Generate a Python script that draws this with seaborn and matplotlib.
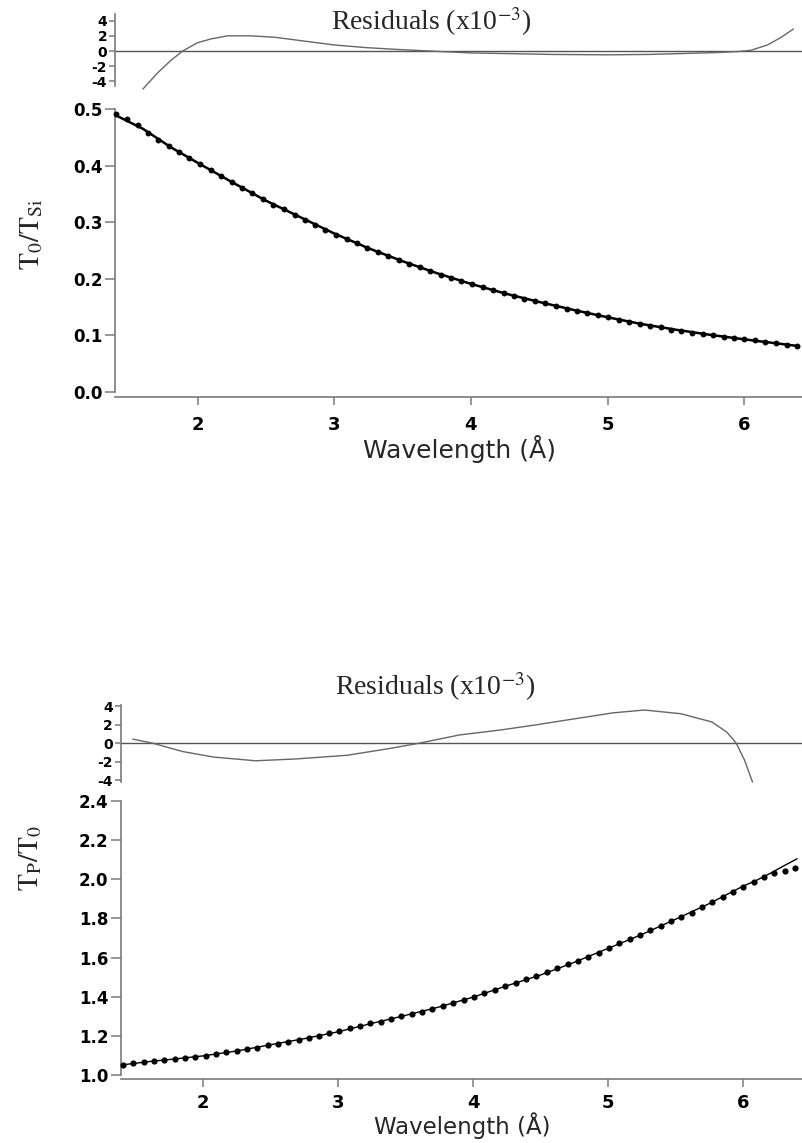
import matplotlib
matplotlib.use("Agg")
import matplotlib.pyplot as plt
import seaborn as sns

# ---------------- data ----------------
# wavelength grid of the measured points (Å)
wavelength = [1.405, 1.48, 1.56, 1.635, 1.71, 1.79, 1.865, 1.94, 2.02, 2.095,
              2.17, 2.25, 2.325, 2.40, 2.48, 2.555, 2.63, 2.71, 2.785, 2.86,
              2.935, 3.01, 3.09, 3.165, 3.24, 3.32, 3.395, 3.47, 3.55, 3.625,
              3.70, 3.78, 3.855, 3.93, 4.01, 4.085, 4.16, 4.24, 4.315, 4.39,
              4.47, 4.545, 4.62, 4.70, 4.775, 4.85, 4.93, 5.005, 5.08, 5.16,
              5.235, 5.31, 5.39, 5.465, 5.54, 5.62, 5.695, 5.77, 5.85, 5.925,
              6.00, 6.08, 6.155, 6.23, 6.31, 6.385]

# T0/TSi measured
t0_tsi = [0.491, 0.483, 0.472, 0.458, 0.446, 0.434, 0.424, 0.413, 0.403, 0.392,
          0.382, 0.371, 0.361, 0.351, 0.341, 0.331, 0.323, 0.313, 0.304, 0.295,
          0.287, 0.278, 0.271, 0.263, 0.255, 0.248, 0.241, 0.233, 0.226, 0.220,
          0.214, 0.207, 0.201, 0.196, 0.191, 0.185, 0.180, 0.175, 0.170, 0.165,
          0.161, 0.157, 0.152, 0.147, 0.143, 0.140, 0.136, 0.132, 0.128, 0.124,
          0.120, 0.117, 0.114, 0.110, 0.108, 0.105, 0.103, 0.100, 0.097, 0.095,
          0.093, 0.091, 0.089, 0.086, 0.083, 0.081]

# Tp/T0 measured
tp_t0 = [1.051, 1.060, 1.066, 1.072, 1.078, 1.081, 1.087, 1.093, 1.100, 1.109,
         1.117, 1.123, 1.131, 1.140, 1.153, 1.160, 1.168, 1.178, 1.188, 1.201,
         1.213, 1.223, 1.238, 1.251, 1.264, 1.273, 1.287, 1.300, 1.312, 1.324,
         1.338, 1.354, 1.369, 1.386, 1.401, 1.417, 1.434, 1.454, 1.470, 1.490,
         1.505, 1.525, 1.546, 1.565, 1.584, 1.604, 1.625, 1.650, 1.673, 1.693,
         1.713, 1.742, 1.764, 1.786, 1.806, 1.829, 1.857, 1.883, 1.909, 1.935,
         1.962, 1.985, 2.013, 2.031, 2.045, 2.056]

# fitted curves
fit_x = [1.40, 1.6, 1.8, 2.0, 2.25, 2.5, 2.75, 3.0, 3.25, 3.5, 3.75, 4.0,
         4.25, 4.5, 4.75, 5.0, 5.25, 5.5, 5.75, 6.0, 6.1, 6.2, 6.3, 6.4]
fit_t0_tsi = [0.489, 0.465, 0.433, 0.405, 0.371, 0.338, 0.309, 0.280, 0.254,
              0.231, 0.210, 0.191, 0.174, 0.159, 0.145, 0.132, 0.120, 0.110,
              0.101, 0.093, 0.090, 0.087, 0.084, 0.081]
fit_tp_t0 = [1.052, 1.069, 1.083, 1.098, 1.123, 1.155, 1.186, 1.221, 1.264,
             1.305, 1.348, 1.398, 1.456, 1.511, 1.576, 1.647, 1.718, 1.796,
             1.876, 1.965, 1.995, 2.030, 2.068, 2.105]

# residuals (x10^-3)
res1_x = [1.60, 1.70, 1.80, 1.89, 2.00, 2.10, 2.22, 2.39, 2.57, 2.74, 3.00,
          3.23, 3.47, 3.70, 4.00, 4.30, 4.60, 5.00, 5.30, 5.60, 5.80, 5.97,
          6.05, 6.17, 6.27, 6.36]
res1_y = [-5.0, -3.0, -1.3, 0.0, 1.1, 1.6, 2.0, 2.0, 1.8, 1.4, 0.8, 0.45,
          0.2, 0.0, -0.25, -0.35, -0.45, -0.5, -0.45, -0.3, -0.2, -0.05,
          0.1, 0.8, 1.8, 2.9]

res2_x = [1.48, 1.63, 1.85, 2.08, 2.39, 2.69, 3.07, 3.37, 3.60, 3.90, 4.21,
          4.47, 4.73, 5.04, 5.27, 5.54, 5.77, 5.88, 5.95, 6.01, 6.07]
res2_y = [0.45, 0.0, -0.9, -1.5, -1.9, -1.7, -1.3, -0.6, 0.0, 0.9, 1.45,
          2.0, 2.6, 3.3, 3.6, 3.2, 2.3, 1.2, 0.0, -1.8, -4.2]

y1_ticks = [0.0, 0.1, 0.2, 0.3, 0.4, 0.5]
y2_ticks = [1.0, 1.2, 1.4, 1.6, 1.8, 2.0, 2.2, 2.4]
res_ticks = [-4, -2, 0, 2, 4]
x_ticks = [2, 3, 4, 5, 6]

# ---------------- style ----------------
sns.set_theme(style="ticks")
plt.rcParams["font.family"] = ["DejaVu Sans"]
plt.rcParams["mathtext.fontset"] = "stix"
plt.rcParams["axes.unicode_minus"] = False

W, H = 803, 1143
fig = plt.figure(figsize=(W / 100, H / 100), dpi=100)
fig.patch.set_facecolor("white")

SPINE = "#7a7a7a"


def rect(l, t, r, b):
    return [l / W, 1 - b / H, (r - l) / W, (b - t) / H]


def style_axis(ax, show_bottom, ylen, ysize, xpad=8):
    for side in ("top", "right"):
        ax.spines[side].set_visible(False)
    ax.spines["left"].set_color(SPINE)
    ax.spines["left"].set_linewidth(1.2)
    ax.spines["bottom"].set_color(SPINE)
    ax.spines["bottom"].set_linewidth(1.2)
    ax.set_facecolor("none")
    ax.tick_params(axis="y", direction="out", length=ylen, width=1.1,
                   color=SPINE, pad=2, labelsize=ysize, labelcolor="black")
    for lab in ax.get_yticklabels():
        lab.set_fontweight("bold")
    if show_bottom:
        ax.tick_params(axis="x", direction="out", length=6, width=1.1,
                       color=SPINE, pad=xpad, labelsize=13,
                       labelcolor="black")
        for lab in ax.get_xticklabels():
            lab.set_fontweight("bold")
    else:
        ax.spines["bottom"].set_visible(False)
        ax.tick_params(axis="x", bottom=False, labelbottom=False)
    ax.grid(False)


# ---------- upper figure: T0/TSi ----------
ax_r1 = fig.add_axes(rect(115.5, 14, 803, 86))
ax_m1 = fig.add_axes(rect(115.5, 109, 803, 396.5))

xlim1 = (1.399, 6.43)
ax_r1.axhline(0, color="#555555", lw=1.0)
sns.lineplot(x=res1_x, y=res1_y, ax=ax_r1, color="#666666", lw=1.0,
             estimator=None, sort=False, clip_on=False)
ax_r1.set_xlim(*xlim1)
ax_r1.set_ylim(-4.6, 4.87)
ax_r1.set_yticks(res_ticks)
ax_r1.set_yticklabels([str(v) for v in res_ticks])
ax_r1.set_xlabel("")
ax_r1.set_ylabel("")
style_axis(ax_r1, False, 4, 10)

sns.lineplot(x=fit_x, y=fit_t0_tsi, ax=ax_m1, color="black", lw=1.8,
             estimator=None, sort=False)
sns.scatterplot(x=wavelength, y=t0_tsi, ax=ax_m1, color="black", s=18,
                linewidth=0, marker="o", clip_on=False, zorder=3)
ax_m1.set_xlim(*xlim1)
ax_m1.set_ylim(-0.008, 0.5)
ax_m1.set_yticks(y1_ticks)
ax_m1.set_yticklabels([f"{v:.1f}" for v in y1_ticks])
ax_m1.set_xticks(x_ticks)
ax_m1.set_xticklabels([str(v) for v in x_ticks])
ax_m1.set_ylabel("")
ax_m1.set_xlabel("Wavelength (Å)", fontsize=18, labelpad=1)
style_axis(ax_m1, True, 7, 12)
ax_m1.spines["left"].set_bounds(0.0, 0.5)

fig.text(431 / W, 1 - 22 / H, r"Residuals (x10$^{-3}$)", ha="center",
         va="center", fontsize=20, family="Liberation Serif")
fig.text(31 / W, 1 - 234 / H, r"$\mathrm{T_0/T_{Si}}$", rotation=90,
         ha="center", va="center", fontsize=20)

# ---------- lower figure: Tp/T0 ----------
ax_r2 = fig.add_axes(rect(121, 704.5, 803, 782))
ax_m2 = fig.add_axes(rect(121, 801, 803, 1079))

xlim2 = (1.393, 6.444)
ax_r2.axhline(0, color="#555555", lw=1.0)
sns.lineplot(x=res2_x, y=res2_y, ax=ax_r2, color="#666666", lw=1.0,
             estimator=None, sort=False, clip_on=False)
ax_r2.set_xlim(*xlim2)
ax_r2.set_ylim(-4.2, 4.2)
ax_r2.set_yticks(res_ticks)
ax_r2.set_yticklabels([str(v) for v in res_ticks])
ax_r2.set_xlabel("")
ax_r2.set_ylabel("")
style_axis(ax_r2, False, 4, 10)

sns.lineplot(x=fit_x, y=fit_tp_t0, ax=ax_m2, color="black", lw=1.0,
             estimator=None, sort=False)
sns.scatterplot(x=wavelength, y=tp_t0, ax=ax_m2, color="black", s=20,
                linewidth=0, marker="o", clip_on=False, zorder=3)
ax_m2.set_xlim(*xlim2)
ax_m2.set_ylim(0.98, 2.4)
ax_m2.set_yticks(y2_ticks)
ax_m2.set_yticklabels([f"{v:.1f}" for v in y2_ticks])
ax_m2.set_xticks(x_ticks)
ax_m2.set_xticklabels([str(v) for v in x_ticks])
ax_m2.set_ylabel("")
ax_m2.set_xlabel("Wavelength (Å)", fontsize=16.5, labelpad=0)
style_axis(ax_m2, True, 7, 12, xpad=5)
ax_m2.spines["left"].set_bounds(1.0, 2.4)

fig.text(435 / W, 1 - 687 / H, r"Residuals (x10$^{-3}$)", ha="center",
         va="center", fontsize=20, family="Liberation Serif")
fig.text(30 / W, 1 - 858 / H, r"$\mathrm{T_P/T_0}$", rotation=90,
         ha="center", va="center", fontsize=20)

fig.savefig("out.png", dpi=100, facecolor="white")
